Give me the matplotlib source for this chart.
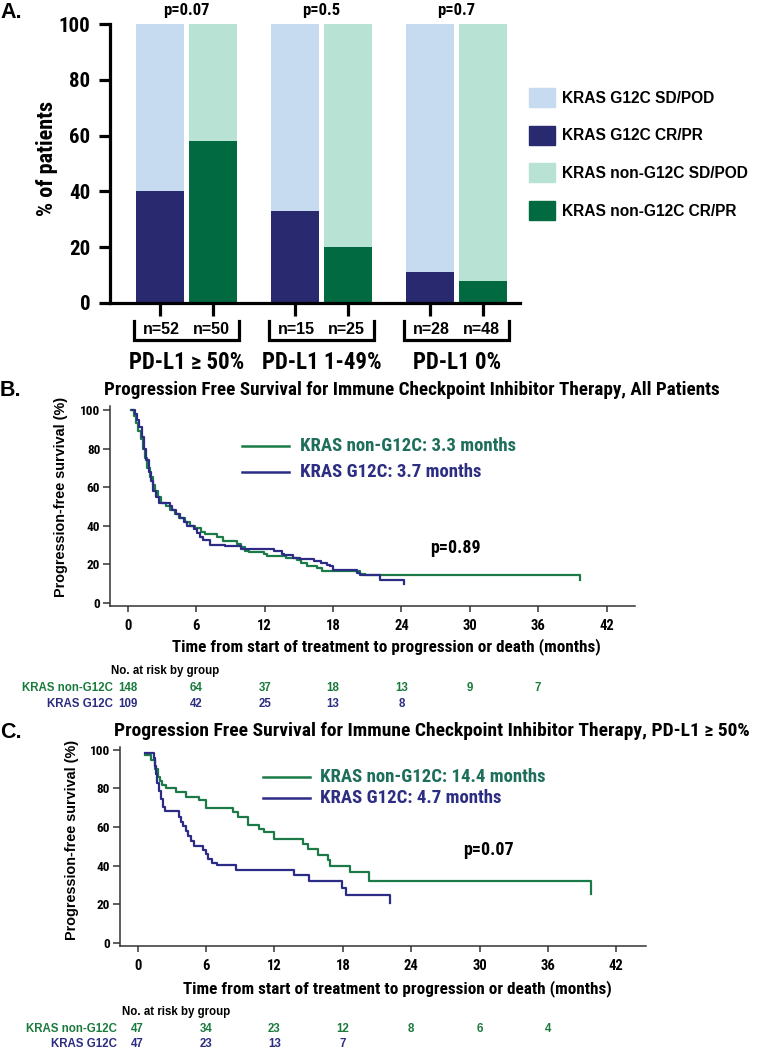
import numpy as np
import matplotlib
matplotlib.use("Agg")
import matplotlib.pyplot as plt
from matplotlib.transforms import blended_transform_factory
from matplotlib.patches import Patch
from matplotlib.lines import Line2D

W, H = 761, 1050
NARROW = ["Roboto Condensed", "PT Sans Narrow", "Archivo Narrow", "DejaVu Sans"]
ARIAL = ["Liberation Sans", "DejaVu Sans"]

# ---------------- PANEL A DATA ----------------
groups = ["PD-L1 \u2265 50%", "PD-L1 1-49%", "PD-L1 0%"]
p_groups = ["p=0.07", "p=0.5", "p=0.7"]
g12c_crpr = [40, 33, 11]
non_g12c_crpr = [58, 20, 8]
n_g12c = [52, 15, 28]
n_non = [50, 25, 48]
legend_labels = ["KRAS G12C SD/POD", "KRAS G12C CR/PR",
                 "KRAS non-G12C SD/POD", "KRAS non-G12C CR/PR"]

# ---------------- PANEL B DATA (all patients) ----------------
b_non_t = [0.3, 0.5, 0.7, 0.9, 1.1, 1.3, 1.5, 1.7, 1.9, 2.2, 2.4, 2.6, 2.9, 3.3,
           3.7, 4.1, 4.5, 5.0, 5.4, 5.9, 6.4, 6.8, 7.8, 8.3, 9.6, 9.9, 10.3,
           10.6, 11.9, 12.2, 13.9, 14.8, 15.2, 15.7, 16.6, 17.0, 20.4, 20.8, 39.7]
b_non_s = [100, 97, 93, 89, 85, 80, 75, 70, 65, 61, 58, 55, 52, 50,
           48, 46, 44, 42, 40, 39, 37, 36, 34, 32, 30.5, 29, 27,
           26.3, 25.5, 24.5, 23.5, 22.5, 21, 19, 18, 16.5, 15.2, 14.4, 11.8]
b_g12c_t = [0.35, 0.6, 0.8, 1.0, 1.2, 1.4, 1.6, 1.8, 2.0, 2.2, 2.5, 2.7, 3.7,
            3.9, 4.2, 4.6, 4.9, 5.2, 5.8, 6.05, 6.3, 6.6, 7.2, 8.5, 9.9, 12.8,
            13.5, 13.7, 14.5, 15.1, 16.3, 16.9, 17.5, 17.7, 18.0, 20.1, 20.4,
            22.1, 24.2]
b_g12c_s = [100, 98, 95, 91, 86, 80, 74, 68, 63, 58, 55, 52, 50,
            48, 46, 44, 42, 40, 38.5, 36.5, 34, 32.4, 30, 29.3, 28, 27,
            25.5, 24.7, 23.5, 23, 22, 21, 19.5, 19, 17, 15.7, 14.3,
            12, 10]
b_risk_t = [0, 6, 12, 18, 24, 30, 36]
b_risk_non = [148, 64, 37, 18, 13, 9, 7]
b_risk_g12c = [109, 42, 25, 13, 8]

# ---------------- PANEL C DATA (PD-L1 >= 50%) ----------------
c_non_t = [0.68, 1.2, 1.5, 1.8, 1.96, 2.1, 2.5, 3.4, 4.2, 5.4, 6.0, 8.4, 8.8,
           9.7, 10.6, 11.1, 12.0, 14.5, 14.9, 15.8, 16.7, 16.9, 18.6, 20.25, 39.8]
c_non_s = [97, 94.5, 90, 86, 84, 81.7, 80, 78, 75.6, 74, 70, 67.5, 65,
           61, 59, 57.5, 53.7, 51, 48.5, 45.4, 42.8, 39.7, 36.4, 32.1, 25.3]
c_g12c_t = [0.68, 1.4, 1.5, 1.6, 1.73, 1.9, 2.05, 2.25, 2.4, 3.63, 3.8, 4.0,
            4.24, 4.45, 4.65, 4.97, 5.77, 6.0, 6.2, 6.5, 6.94, 8.63, 13.75,
            15.0, 17.9, 18.3, 22.15]
c_g12c_s = [98.4, 95.7, 91.5, 87.2, 83, 78.7, 74.5, 70.5, 68.4, 65.3, 62.7, 60.4,
            57.8, 55.4, 52.7, 50, 48, 45.8, 43.3, 41.5, 40.2, 37.6, 35,
            32, 28.2, 24.7, 20.4]
c_risk_t = [0, 6, 12, 18, 24, 30, 36]
c_risk_non = [47, 34, 23, 12, 8, 6, 4]
c_risk_g12c = [47, 23, 13, 7]

# ---------------- COLOURS ----------------
light_blue = "#c6dbf0"
navy = "#29296f"
light_green = "#b8e2d4"
dark_green = "#016a40"
km_green = "#1b7a48"
km_blue = "#2c2c86"
txt_green = "#1d6e5a"
txt_blue = "#2d2d82"
risk_green = "#1a7a3c"
risk_blue = "#2c2c80"

fig = plt.figure(figsize=(W / 100, H / 100), dpi=100)


def fy(py):
    return 1 - py / H


def ftext(px, py, s, **kw):
    kw.setdefault("va", "center")
    fig.text(px / W, fy(py), s, **kw)


def add_axes_px(left, top, right, bottom):
    return fig.add_axes([left / W, fy(bottom), (right - left) / W, (bottom - top) / H])


# ---------------- PANEL A ----------------
axA = add_axes_px(110, 24, 520, 303)
centers = 1.443 + 2.55 * np.arange(len(groups))
x_g = centers - 0.5
x_n = centers + 0.5
bw = 0.906

axA.bar(x_g, [100 - v for v in g12c_crpr], bw, bottom=g12c_crpr, color=light_blue)
axA.bar(x_g, g12c_crpr, bw, color=navy)
axA.bar(x_n, [100 - v for v in non_g12c_crpr], bw, bottom=non_g12c_crpr, color=light_green)
axA.bar(x_n, non_g12c_crpr, bw, color=dark_green)

axA.set_xlim(0, 7.74)
axA.set_ylim(0, 100)
axA.set_yticks(range(0, 101, 20))
axA.set_xticks(sorted(list(x_g) + list(x_n)))
axA.set_xticklabels([])
for s in ["top", "right"]:
    axA.spines[s].set_visible(False)
for s in ["left", "bottom"]:
    axA.spines[s].set_linewidth(2.3)
axA.tick_params(axis="y", length=8, width=2.3, labelsize=15, pad=6)
axA.tick_params(axis="x", length=9, width=2.3)
for lbl in axA.get_yticklabels():
    lbl.set_fontfamily(NARROW)
    lbl.set_fontweight("bold")

ftext(47, 158, "% of patients", rotation=90, ha="center", fontsize=16,
      fontweight="bold", family=NARROW)
ftext(0, 13, "A.", ha="left", fontsize=15.5, fontweight="bold", family=ARIAL)

trA = blended_transform_factory(axA.transData, fig.transFigure)
for i in range(len(groups)):
    axA.text(centers[i], fy(10), p_groups[i], transform=trA, ha="center", va="center",
             fontsize=12, fontweight="bold", family=NARROW)
    axA.text(x_g[i] + 0.03, fy(329), f"n={n_g12c[i]}", transform=trA, ha="center",
             va="center", fontsize=11.5, fontweight="bold", family=ARIAL)
    axA.text(x_n[i] - 0.03, fy(329), f"n={n_non[i]}", transform=trA, ha="center",
             va="center", fontsize=11.5, fontweight="bold", family=ARIAL)
    l = x_g[i] - bw / 2 - 0.04
    r = x_n[i] + bw / 2 + 0.04
    axA.add_line(Line2D([l, l, r, r], [fy(321), fy(340), fy(340), fy(321)],
                        transform=trA, color="black", lw=2.3, clip_on=False,
                        solid_joinstyle="miter"))
    axA.text(centers[i], fy(362), groups[i], transform=trA, ha="center", va="center",
             fontsize=16.5, fontweight="bold", family=NARROW)

handles = [Patch(color=c) for c in [light_blue, navy, light_green, dark_green]]
fig.legend(handles, legend_labels, loc="upper left", bbox_to_anchor=(529 / W, fy(88)),
           frameon=False, borderpad=0, borderaxespad=0, handlelength=1.65,
           handleheight=1.5, handletextpad=0.5, labelspacing=1.2,
           prop={"family": ARIAL, "weight": "bold", "size": 11.2})


# ---------------- KM PANELS ----------------
def km_panel(ax, non_t, non_s, g_t, g_s, xlim, ylim):
    ax.step(non_t, non_s, where="post", color=km_green, lw=1.6)
    ax.step(g_t, g_s, where="post", color=km_blue, lw=1.6)
    ax.set_xlim(*xlim)
    ax.set_ylim(*ylim)
    ax.set_xticks(range(0, 43, 6))
    ax.set_yticks(range(0, 101, 20))
    for s in ["top", "right"]:
        ax.spines[s].set_visible(False)
    for s in ["left", "bottom"]:
        ax.spines[s].set_linewidth(1.1)
        ax.spines[s].set_color("#333333")
    ax.tick_params(axis="y", length=5, width=1.1, color="#333333", labelsize=9.5, pad=2)
    ax.tick_params(axis="x", length=4.5, width=1.1, color="#333333", labelsize=10.5, pad=5)
    for lbl in ax.get_xticklabels() + ax.get_yticklabels():
        lbl.set_fontfamily(NARROW)
        lbl.set_fontweight("bold")


def risk_table(ax, risk_t, risk_non, risk_g, hdr_x, hdr_y, lab_x, row1, row2):
    tr = blended_transform_factory(ax.transData, fig.transFigure)
    kw = dict(fontsize=8.3, fontweight="bold", family=ARIAL)
    ftext(hdr_x, hdr_y, "No. at risk by group", ha="left", **kw)
    ftext(lab_x, row1, "KRAS non-G12C", ha="right", color=risk_green, **kw)
    ftext(lab_x, row2, "KRAS G12C", ha="right", color=risk_blue, **kw)
    for t, v in zip(risk_t, risk_non):
        ax.text(t, fy(row1), str(v), transform=tr, ha="center", va="center",
                color=risk_green, **kw)
    for t, v in zip(risk_t, risk_g):
        ax.text(t, fy(row2), str(v), transform=tr, ha="center", va="center",
                color=risk_blue, **kw)


def km_legend(x0, x1, xt, y_non, y_g, lab_non, lab_g):
    fig.add_artist(Line2D([x0 / W, x1 / W], [fy(y_non), fy(y_non)], color=km_green, lw=1.8))
    fig.add_artist(Line2D([x0 / W, x1 / W], [fy(y_g), fy(y_g)], color=km_blue, lw=1.8))
    ftext(xt, y_non, lab_non, ha="left", fontsize=13.5, fontweight="bold",
          family=NARROW, color=txt_green)
    ftext(xt, y_g, lab_g, ha="left", fontsize=13.5, fontweight="bold",
          family=NARROW, color=txt_blue)


# Panel B
axB = add_axes_px(110, 406, 635, 606)
km_panel(axB, b_non_t, b_non_s, b_g12c_t, b_g12c_s, (-1.58, 44.5), (-1.5, 102))
ftext(0, 391, "B.", ha="left", fontsize=15.5, fontweight="bold", family=ARIAL)
ftext(412, 390, "Progression Free Survival for Immune Checkpoint Inhibitor Therapy, All Patients",
      ha="center", fontsize=13.8, fontweight="bold", family=NARROW)
ftext(61, 497, "Progression-free survival (%)", rotation=90, ha="center",
      fontsize=10.4, fontweight="bold", family=ARIAL)
ftext(386, 647, "Time from start of treatment to progression or death (months)",
      ha="center", fontsize=12.3, fontweight="bold", family=NARROW)
km_legend(242, 289, 300, 446, 472, "KRAS non-G12C: 3.3 months", "KRAS G12C: 3.7 months")
ftext(455, 548, "p=0.89", ha="center", fontsize=13, fontweight="bold", family=NARROW)
risk_table(axB, b_risk_t, b_risk_non, b_risk_g12c, 111, 671, 113, 688, 704)

# Panel C
axC = add_axes_px(119.5, 747, 646, 946)
km_panel(axC, c_non_t, c_non_s, c_g12c_t, c_g12c_s, (-1.6, 44.6), (-1.7, 101.4))
ftext(0, 732, "C.", ha="left", fontsize=15.5, fontweight="bold", family=ARIAL)
ftext(432, 731, "Progression Free Survival for Immune Checkpoint Inhibitor Therapy, PD-L1 \u2265 50%",
      ha="center", fontsize=14, fontweight="bold", family=NARROW)
ftext(72, 840, "Progression-free survival (%)", rotation=90, ha="center",
      fontsize=10.4, fontweight="bold", family=ARIAL)
ftext(397, 989, "Time from start of treatment to progression or death (months)",
      ha="center", fontsize=12.3, fontweight="bold", family=NARROW)
km_legend(263, 310, 320, 777, 798, "KRAS non-G12C: 14.4 months", "KRAS G12C: 4.7 months")
ftext(488, 850, "p=0.07", ha="center", fontsize=13, fontweight="bold", family=NARROW)
risk_table(axC, c_risk_t, c_risk_non, c_risk_g12c, 122, 1012, 117, 1029, 1044)

fig.savefig("out.png", dpi=100)
